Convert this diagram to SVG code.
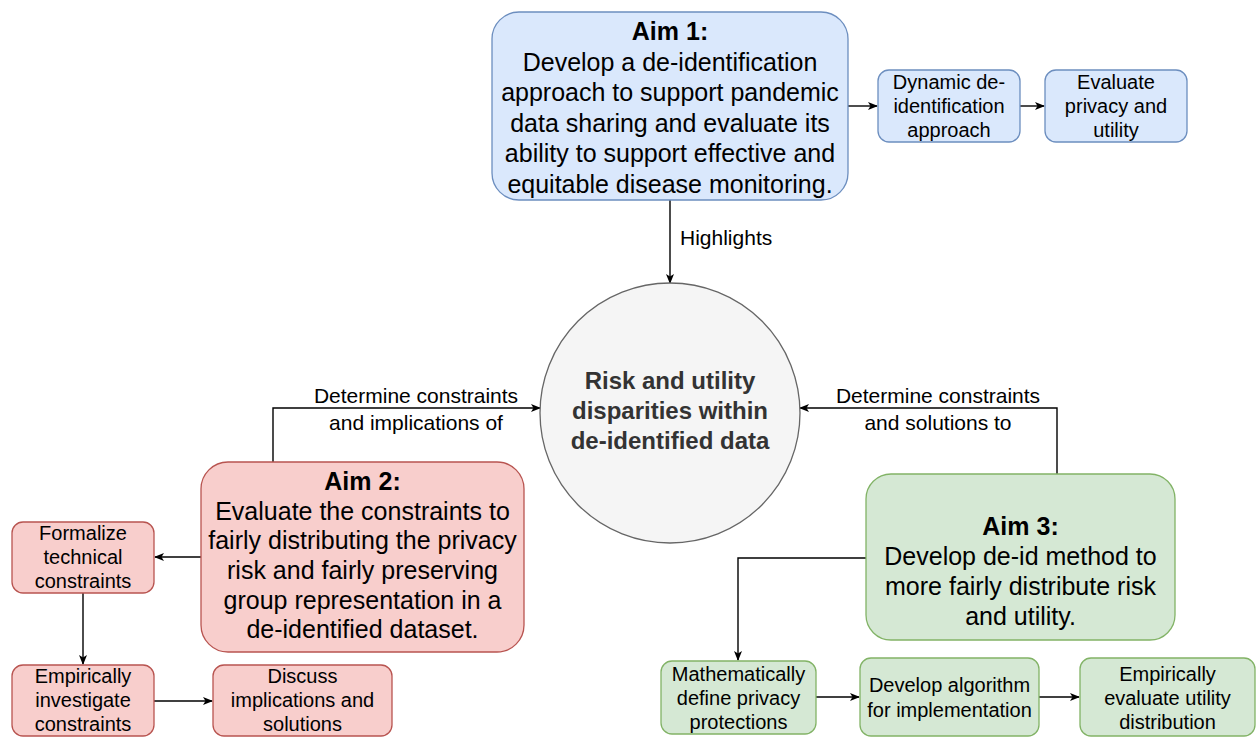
<svg xmlns="http://www.w3.org/2000/svg" width="1256" height="737" viewBox="0 0 1256 737">
<style>
text{font-family:"Liberation Sans",Arial,Helvetica,sans-serif;fill:#000;text-anchor:middle}
.big{font-size:25px}
.sm{font-size:20px}
.lbl{font-size:21px}
.b{font-weight:bold}
.blue{fill:#dae8fc;stroke:#6c8ebf;stroke-width:1.3}
.red{fill:#f8cecc;stroke:#b85450;stroke-width:1.3}
.green{fill:#d5e8d4;stroke:#82b366;stroke-width:1.3}
.circ{fill:#f5f5f5;stroke:#666;stroke-width:1.3}
.edge{fill:none;stroke:#000;stroke-width:1.4;marker-end:url(#arr)}
</style>
<defs>
<marker id="arr" viewBox="0 0 10 8" refX="9" refY="4" markerWidth="10" markerHeight="8" markerUnits="userSpaceOnUse" orient="auto">
<path d="M0,0 L10,4 L0,8 L2.5,4 z" fill="#000"/>
</marker>
</defs>
<rect width="1256" height="737" fill="#fff"/>

<g id="connectors">
<path class="edge" d="M848,106 H877"/>
<path class="edge" d="M1020,106 H1044"/>
<path class="edge" d="M670,200 V283"/>
<path class="edge" d="M273,462 V408 H540"/>
<path class="edge" d="M1057,474 V408 H800"/>
<path class="edge" d="M201,557 H155"/>
<path class="edge" d="M83,593 V664"/>
<path class="edge" d="M154,701 H212"/>
<path class="edge" d="M866,558 H738 V660"/>
<path class="edge" d="M816,697 H859"/>
<path class="edge" d="M1039,697 H1079"/>
<text class="lbl" x="680" y="245" style="text-anchor:start">Highlights</text>
<text class="lbl" x="416" y="403">Determine constraints</text>
<text class="lbl" x="416" y="430">and implications of</text>
<text class="lbl" x="938" y="403">Determine constraints</text>
<text class="lbl" x="938" y="430">and solutions to</text>
</g>

<g id="aim1">
<rect class="blue" x="492" y="12" width="356" height="188" rx="27"/>
<text class="big"><tspan class="b" x="670" y="40">Aim 1:</tspan><tspan x="670" y="71">Develop a de-identification</tspan><tspan x="670" y="101">approach to support pandemic</tspan><tspan x="670" y="132">data sharing and evaluate its</tspan><tspan x="670" y="162">ability to support effective and</tspan><tspan x="670" y="193">equitable disease monitoring.</tspan></text>
</g>

<g id="dynamic">
<rect class="blue" x="878" y="70" width="142" height="72" rx="11"/>
<text class="sm"><tspan x="949" y="89">Dynamic de-</tspan><tspan x="949" y="113">identification</tspan><tspan x="949" y="137">approach</tspan></text>
</g>

<g id="evaluate">
<rect class="blue" x="1045" y="70" width="142" height="72" rx="11"/>
<text class="sm"><tspan x="1116" y="89">Evaluate</tspan><tspan x="1116" y="113">privacy and</tspan><tspan x="1116" y="137">utility</tspan></text>
</g>

<g id="center">
<circle class="circ" cx="670" cy="413" r="130"/>
<text class="b" style="font-size:24px;fill:#333"><tspan x="670" y="389">Risk and utility</tspan><tspan x="670" y="419">disparities within</tspan><tspan x="670" y="449">de-identified data</tspan></text>
</g>

<g id="aim2">
<rect class="red" x="201" y="462" width="323" height="190" rx="27"/>
<text class="big"><tspan class="b" x="362.5" y="490">Aim 2:</tspan><tspan x="362.5" y="520">Evaluate the constraints to</tspan><tspan x="362.5" y="549">fairly distributing the privacy</tspan><tspan x="362.5" y="579">risk and fairly preserving</tspan><tspan x="362.5" y="609">group representation in a</tspan><tspan x="362.5" y="638">de-identified dataset.</tspan></text>
</g>

<g id="formalize">
<rect class="red" x="12" y="522" width="142" height="71" rx="11"/>
<text class="sm"><tspan x="83" y="540">Formalize</tspan><tspan x="83" y="564">technical</tspan><tspan x="83" y="588">constraints</tspan></text>
</g>

<g id="empirically-investigate">
<rect class="red" x="12" y="665" width="142" height="71" rx="11"/>
<text class="sm"><tspan x="83" y="683">Empirically</tspan><tspan x="83" y="707">investigate</tspan><tspan x="83" y="731">constraints</tspan></text>
</g>

<g id="discuss">
<rect class="red" x="213" y="665" width="179" height="71" rx="11"/>
<text class="sm"><tspan x="302.5" y="683">Discuss</tspan><tspan x="302.5" y="707">implications and</tspan><tspan x="302.5" y="731">solutions</tspan></text>
</g>

<g id="aim3">
<rect class="green" x="866" y="474" width="309" height="166" rx="25"/>
<text class="big"><tspan class="b" x="1020.5" y="535">Aim 3:</tspan><tspan x="1020.5" y="565">Develop de-id method to</tspan><tspan x="1020.5" y="595">more fairly distribute risk</tspan><tspan x="1020.5" y="625">and utility.</tspan></text>
</g>

<g id="math">
<rect class="green" x="661" y="661" width="155" height="73" rx="11"/>
<text class="sm"><tspan x="738.5" y="681">Mathematically</tspan><tspan x="738.5" y="705">define privacy</tspan><tspan x="738.5" y="729">protections</tspan></text>
</g>

<g id="algorithm">
<rect class="green" x="860" y="658" width="179" height="78" rx="11"/>
<text class="sm"><tspan x="949.5" y="692">Develop algorithm</tspan><tspan x="949.5" y="717">for implementation</tspan></text>
</g>

<g id="empirically-evaluate">
<rect class="green" x="1080" y="658" width="175" height="78" rx="11"/>
<text class="sm"><tspan x="1167.5" y="681">Empirically</tspan><tspan x="1167.5" y="705">evaluate utility</tspan><tspan x="1167.5" y="729">distribution</tspan></text>
</g>
</svg>
